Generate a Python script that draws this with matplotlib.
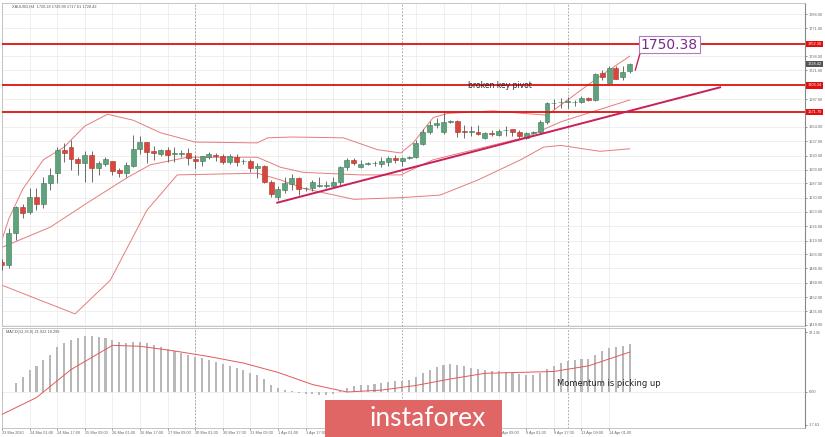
import matplotlib.pyplot as plt
from matplotlib.patches import Rectangle

# --- dados (XAUUSD H4) ---
opens = [1494, 1490, 1528, 1559, 1553, 1571, 1562, 1587, 1599, 1626,
         1630, 1616, 1611, 1621, 1605, 1610, 1613, 1603, 1599, 1608,
         1628, 1636, 1625, 1622, 1626, 1622, 1622, 1623, 1616, 1613,
         1618, 1621, 1620, 1612, 1618, 1613, 1613, 1605, 1607, 1589,
         1571, 1579, 1586, 1593, 1581, 1581, 1584, 1584, 1584, 1589,
         1606, 1615, 1606, 1610, 1611, 1610, 1612, 1617, 1613, 1617,
         1618, 1634, 1648, 1656, 1648, 1660, 1661, 1649, 1648, 1648,
         1641, 1647, 1644, 1650, 1651, 1648, 1641, 1647, 1648, 1660,
         1682, 1683, 1684, 1683, 1683, 1688, 1686, 1718, 1706, 1724,
         1713, 1720.28]
highs = [1497, 1534, 1560, 1562, 1581, 1581, 1594, 1605, 1630, 1635,
         1638, 1618, 1625, 1625, 1614, 1618, 1614, 1605, 1612, 1644,
         1643, 1636, 1631, 1628, 1630, 1630, 1626, 1629, 1621, 1620,
         1624, 1623, 1622, 1622, 1622, 1616, 1616, 1611, 1609, 1591,
         1584, 1594, 1598, 1594, 1583, 1591, 1594, 1590, 1594, 1608,
         1617, 1617, 1615, 1612, 1614, 1618, 1620, 1621, 1618, 1619,
         1638, 1652, 1661, 1665, 1672, 1662, 1662, 1656, 1655, 1656,
         1648, 1650, 1652, 1655, 1652, 1650, 1648, 1649, 1662, 1684,
         1687, 1688, 1689, 1686, 1691, 1690, 1718, 1721, 1726, 1726,
         1726, 1729.89]
lows = [1484, 1486, 1520, 1546, 1551, 1555, 1558, 1579, 1587, 1612,
        1603, 1597, 1589, 1589, 1597, 1607, 1597, 1595, 1595, 1606,
        1622, 1611, 1615, 1620, 1612, 1612, 1618, 1609, 1605, 1608,
        1616, 1614, 1610, 1610, 1608, 1610, 1600, 1593, 1587, 1571,
        1567, 1576, 1579, 1573, 1578, 1578, 1583, 1582, 1583, 1585,
        1603, 1609, 1605, 1609, 1607, 1606, 1608, 1611, 1608, 1616,
        1617, 1632, 1645, 1653, 1645, 1659, 1642, 1641, 1643, 1644,
        1640, 1643, 1643, 1643, 1643, 1641, 1640, 1646, 1646, 1658,
        1675, 1677, 1676, 1679, 1682, 1685, 1685, 1710, 1705, 1711,
        1710, 1717.61]
closes = [1490, 1528, 1559, 1552, 1571, 1562, 1587, 1597, 1626, 1623,
          1616, 1611, 1621, 1605, 1611, 1616, 1602, 1599, 1609, 1628,
          1636, 1624, 1623, 1626, 1621, 1623, 1622.5, 1617, 1613, 1619,
          1622, 1620, 1612, 1620, 1612, 1613.5, 1605, 1607, 1589, 1574,
          1580, 1587, 1593, 1580, 1582, 1589, 1584.5, 1584.5, 1589, 1606,
          1615, 1611, 1610, 1611, 1611.5, 1613, 1617, 1615, 1617, 1618,
          1635, 1648, 1656, 1659, 1660, 1661, 1648, 1648, 1648.5, 1646,
          1647, 1645, 1649, 1650.5, 1648, 1643, 1647, 1648, 1660, 1682,
          1682.5, 1683.5, 1684.5, 1684, 1688, 1686, 1717, 1713, 1724, 1711,
          1719, 1728.42]

# bandas de Bollinger
bb_x = [0, 1, 3, 6, 9, 12, 15.3, 19, 23, 28, 37, 38.5, 42, 49.5, 54.4, 57.8,
        59.6, 62.5, 64.6, 71.2, 75.6, 79, 81, 86.3, 91]
bb_upper = [1520, 1545, 1580, 1615, 1630, 1655, 1669, 1662, 1647, 1636, 1635,
            1641, 1642, 1641, 1627, 1623, 1635, 1665, 1670, 1673, 1670, 1668,
            1680, 1712, 1738]
mid_x = [0, 7, 12.4, 18.2, 21.5, 26.9, 37, 40.4, 43.7, 52, 57.8, 62.5, 76, 81, 91]
bb_mid = [1511, 1535, 1564, 1594, 1609, 1618, 1618, 1606, 1600, 1597, 1597,
          1615, 1642, 1660, 1686]
low_x = [0, 5.6, 10.6, 15.7, 21, 25.4, 37, 40.4, 43.7, 51, 57.8, 63.5, 69,
         75.2, 78.5, 81, 86.7, 91]
bb_lower = [1466, 1448, 1432, 1472, 1555, 1597, 1599, 1591, 1581, 1568, 1570,
            1573, 1591, 1615, 1630, 1632, 1625, 1628]

# MACD
macd_hist = [-4, 0, 5, 8, 12, 14, 17, 20, 24, 26,
             28, 29, 30, 30, 29.5, 29, 28, 27, 26, 27,
             27, 26, 25, 24, 23, 22, 21, 20, 19, 18,
             17, 16, 15, 14, 13, 12, 10, 9, 7, 4,
             2, 1, 0.5, -0.5, -1, -1, -1.5, -1.5, -1, 0.5,
             2, 3, 3.5, 4, 4.5, 5, 5.5, 6, 6, 6.5,
             8, 10, 12, 13.5, 14.5, 15, 14.5, 14, 13, 12.5,
             12, 11.5, 11, 10.5, 10, 9.5, 9, 9, 10, 12.5,
             14, 15.5, 16.5, 17, 17.5, 17.5, 20, 22, 23.5, 24,
             24.5, 25.5]
sig_x = [0, 5, 10, 16, 20, 25, 30, 35, 40, 45, 50, 55, 60, 65, 70, 75, 80, 85, 91]
macd_signal = [-12, -3, 12, 25, 24.5, 22, 19, 15.5, 10.5, 4, 0, 1, 3.5, 7, 10,
               10.5, 11, 14, 21.4]

# niveis horizontais e linha de tendencia
levels = [1752.30, 1703.34, 1671.70]
trend_x = [39.9, 104.1]
trend_y = [1564, 1701]

price_ticks = [1419, 1435, 1452, 1469, 1486, 1503, 1519, 1536, 1553, 1570,
               1587, 1603, 1620, 1637, 1654, 1687, 1721, 1738, 1771, 1788]

xtick_pos = list(range(0, 92, 4))
xtick_labels = ["23 Mar 2020", "24 Mar 01:00", "24 Mar 17:00", "25 Mar 09:00",
                "26 Mar 01:00", "26 Mar 17:00", "27 Mar 09:00", "30 Mar 01:00",
                "30 Mar 17:00", "31 Mar 09:00", "1 Apr 01:00", "1 Apr 17:00",
                "2 Apr 09:00", "3 Apr 01:00", "3 Apr 17:00", "6 Apr 09:00",
                "7 Apr 01:00", "7 Apr 17:00", "8 Apr 09:00", "9 Apr 01:00",
                "9 Apr 17:00", "13 Apr 09:00", "14 Apr 01:00"]
separators = [28, 58, 82]

W, H = 825, 437
fs = 2.8  # fonte pequena dos eixos
small = 'Liberation Sans'
fig = plt.figure(figsize=(W / 100, H / 100), dpi=100)
ax = fig.add_axes([2 / W, 1 - 326 / H, 803 / W, 323 / H])
ax2 = fig.add_axes([2 / W, 1 - 428 / H, 803 / W, 100 / H], sharex=ax)

xmin, xmax = 0.07, 116.4
ax.set_xlim(xmin, xmax)
ax.set_ylim(1417.6, 1801.1)
ax2.set_ylim(-19.3, 34.3)

grid_c = '#ececec'
for a in (ax, ax2):
    for x in xtick_pos:
        a.axvline(x, color=grid_c, lw=0.6, zorder=0)
    for x in separators:
        a.axvline(x, color='#999999', lw=0.6, ls=(0, (2, 2)), zorder=1)
    for s in ['left', 'top', 'bottom']:
        a.spines[s].set_color('#bbbbbb')
        a.spines[s].set_linewidth(0.6)
    a.spines['right'].set_color('#888888')
    a.spines['right'].set_linewidth(0.8)
    a.yaxis.tick_right()
    a.tick_params(axis='y', labelsize=fs, colors='#666666', length=1.5, width=0.5, pad=1)
for p in price_ticks:
    ax.axhline(p, color=grid_c, lw=0.6, zorder=0)

ax.set_yticks(price_ticks)
ax.set_yticklabels([f"{p:.2f}" for p in price_ticks], family=small)
ax.tick_params(axis='x', bottom=False, labelbottom=False)

# velas
green, red = '#5fa37c', '#d9463b'
for i, (o, h, l, c) in enumerate(zip(opens, highs, lows, closes)):
    col = green if c >= o else red
    edge = '#3d7a58' if c >= o else '#a8322a'
    ax.vlines(i, l, h, color='#555555', lw=0.6, zorder=3)
    body = max(abs(c - o), 0.6)
    ax.add_patch(Rectangle((i - 0.36, min(o, c)), 0.72, body, facecolor=col,
                           edgecolor=edge, lw=0.4, zorder=4))

bb_c = '#e77b7b'
ax.plot(bb_x, bb_upper, color=bb_c, lw=0.7, zorder=2)
ax.plot(mid_x, bb_mid, color=bb_c, lw=0.7, zorder=2)
ax.plot(low_x, bb_lower, color=bb_c, lw=0.7, zorder=2)

for lv in levels:
    ax.axhline(lv, color='#e01010', lw=1.3, zorder=5)
    ax.text(1.003, lv, f"{lv:.2f}", transform=ax.get_yaxis_transform(), fontsize=fs,
            family=small, color='white', va='center', ha='left', zorder=10, clip_on=False,
            bbox=dict(boxstyle='square,pad=0.3', fc='#e01010', ec='none'))
ax.text(1.003, closes[-1], f"{closes[-1]:.2f}", transform=ax.get_yaxis_transform(),
        fontsize=fs, family=small, color='white', va='center', ha='left', zorder=10,
        clip_on=False, bbox=dict(boxstyle='square,pad=0.3', fc='#555555', ec='none'))

ax.plot(trend_x, trend_y, color='#c8205a', lw=1.4, zorder=6)

# anotacoes
ax.plot([91.8, 92.5], [1721.5, 1741.7], color='#c8205a', lw=1.0, zorder=6)
ax.text(92.6, 1751.5, "1750.38", fontsize=10, color='#7a2a8a', va='center', ha='left',
        zorder=11, bbox=dict(boxstyle='square,pad=0.12', fc='white', ec='#b07cc0', lw=0.8))
ax.text(67.5, 1703, "broken key pivot", fontsize=5.5, color='#222222', va='center',
        ha='left', zorder=11)
ax.text(0.012, 0.995, "XAUUSD,H4  1720.28 1729.89 1717.61 1728.42", transform=ax.transAxes,
        fontsize=fs, family=small, color='#555555', va='top', ha='left', zorder=11)

# MACD
ax2.bar(range(len(macd_hist)), macd_hist, width=0.3, color='#b8b8b8', zorder=2)
ax2.plot(sig_x, macd_signal, color='#e05a5a', lw=0.7, zorder=3)
ax2.axhline(0, color=grid_c, lw=0.6, zorder=0)
ax2.set_yticks([32.145, 0, -17.63])
ax2.set_yticklabels(["32.145", "0.00", "-17.63"], family=small)
ax2.text(0.005, 0.985, "MACD(12,26,9) 21.922 18.299", transform=ax2.transAxes,
         fontsize=fs, family=small, color='#555555', va='top', ha='left')
ax2.text(80.5, 4.5, "Momentum is picking up", fontsize=6, color='#222222', va='center',
         ha='left', zorder=11)
ax2.set_xticks(xtick_pos)
ax2.set_xticklabels(xtick_labels, ha='left', family=small)
ax2.tick_params(axis='x', labelsize=fs, colors='#666666', length=1.5, width=0.5, pad=1)

# logotipo
fig.patches.append(Rectangle((325 / W, 0), 177 / W, 37 / H, transform=fig.transFigure,
                             facecolor='#e06666', edgecolor='none', zorder=20))
fig.text(428 / W, 19 / H, "instaforex", fontsize=19, color='white', family='Lato',
         ha='center', va='center', zorder=21)

fig.savefig('out.png', dpi=100)
